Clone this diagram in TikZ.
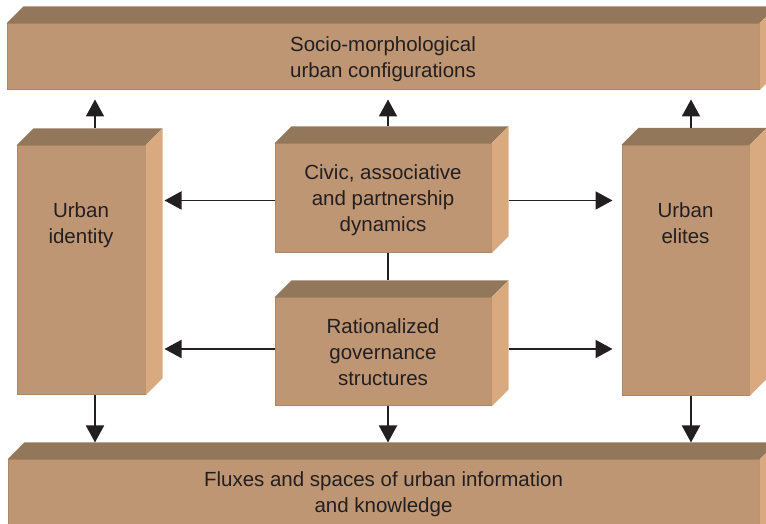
\documentclass[tikz,border=0pt]{standalone}
\usepackage{fontspec}
\setmainfont{Liberation Sans}
\usetikzlibrary{arrows.meta,calc}
\definecolor{frontc}{HTML}{BE9673}
\definecolor{topc}{HTML}{93775B}
\definecolor{sidec}{HTML}{D9AA7F}
\definecolor{edgec}{HTML}{AE8866}
\definecolor{inkc}{HTML}{231F20}
\tikzset{
  front/.style={fill=frontc, draw=edgec, line width=1pt, inner sep=0pt},
  lbl/.style={inner sep=0pt, align=center, text=inkc, font=\fontsize{20.5}{26}\selectfont},
  topface/.style={fill=topc, draw=none},
  sideface/.style={fill=sidec, draw=none},
  arr/.style={draw=inkc, line width=1.9pt, -{Triangle[length=17pt,width=18pt]}},
  plain/.style={draw=inkc, line width=1.9pt}
}
\newcommand{\depthbox}[1]{%
  \fill[topface] (#1.north west) -- ++(17,17) -- ($(#1.north east)+(17,17)$) -- (#1.north east) -- cycle;
  \fill[sideface] (#1.north east) -- ++(17,17) -- ($(#1.south east)+(17,17)$) -- (#1.south east) -- cycle;
}
\begin{document}
\begin{tikzpicture}[x=1pt,y=1pt]
\useasboundingbox (0,0) rectangle (766,524);
\clip (0,0) rectangle (766,524);
% boxes
\node[front, minimum width=752pt, minimum height=66pt] (T) at (383,467) {};
\node[front, minimum width=751pt, minimum height=80pt] (B) at (383.5,24) {};
\node[front, minimum width=128pt, minimum height=249pt] (L) at (81,253.5) {};
\node[front, minimum width=127pt, minimum height=250pt] (R) at (685.5,253.5) {};
\node[front, minimum width=216pt, minimum height=109pt] (C) at (383,325.5) {};
\node[front, minimum width=216pt, minimum height=108pt] (G) at (383,172) {};
\depthbox{T}
\depthbox{B}
\depthbox{L}
\depthbox{R}
\depthbox{C}
\depthbox{G}
% texts
\node[lbl] (Tt) at (383,465) {Socio-morphological\\urban configurations};
\node[lbl] (Bt) at (383.5,29.5) {Fluxes and spaces of urban information\\and knowledge};
\node[lbl] (Lt) at (81,299) {Urban\\identity};
\node[lbl] (Rt) at (685.5,301) {Urban\\elites};
\node[lbl] (Ct) at (383,324) {Civic, associative\\and partnership\\dynamics};
\node[lbl] (Gt) at (383,172) {Rationalized\\governance\\structures};
% connectors
\draw[arr] ([xshift=14pt,yshift=17pt]L.north) -- ([xshift=14pt,yshift=-9pt]L.north |- T.south);
\draw[arr] ([xshift=5pt,yshift=17pt]C.north) -- ([xshift=5pt,yshift=-9pt]C.north |- T.south);
\draw[arr] ([xshift=5.5pt,yshift=17pt]R.north) -- ([xshift=5.5pt,yshift=-9pt]R.north |- T.south);
\draw[arr] ([xshift=14pt]L.south) -- ([xshift=14pt,yshift=17pt]L.south |- B.north);
\draw[arr] ([xshift=5pt]G.south) -- ([xshift=5pt,yshift=17pt]G.south |- B.north);
\draw[arr] ([xshift=5.5pt]R.south) -- ([xshift=5.5pt,yshift=17pt]R.south |- B.north);
\draw[plain] ([xshift=5pt]C.south) -- ([xshift=5pt,yshift=17pt]C.south |- G.north);
\draw[arr] ([yshift=-2pt]C.west) -- ([xshift=19pt,yshift=-2pt]C.west -| L.east);
\draw[arr] ([xshift=17pt,yshift=-2pt]C.east) -- ([xshift=-9pt,yshift=-2pt]C.east -| R.west);
\draw[arr] ([yshift=3pt]G.west) -- ([xshift=19pt,yshift=3pt]G.west -| L.east);
\draw[arr] ([xshift=17pt,yshift=3pt]G.east) -- ([xshift=-9pt,yshift=3pt]G.east -| R.west);
\end{tikzpicture}
\end{document}
